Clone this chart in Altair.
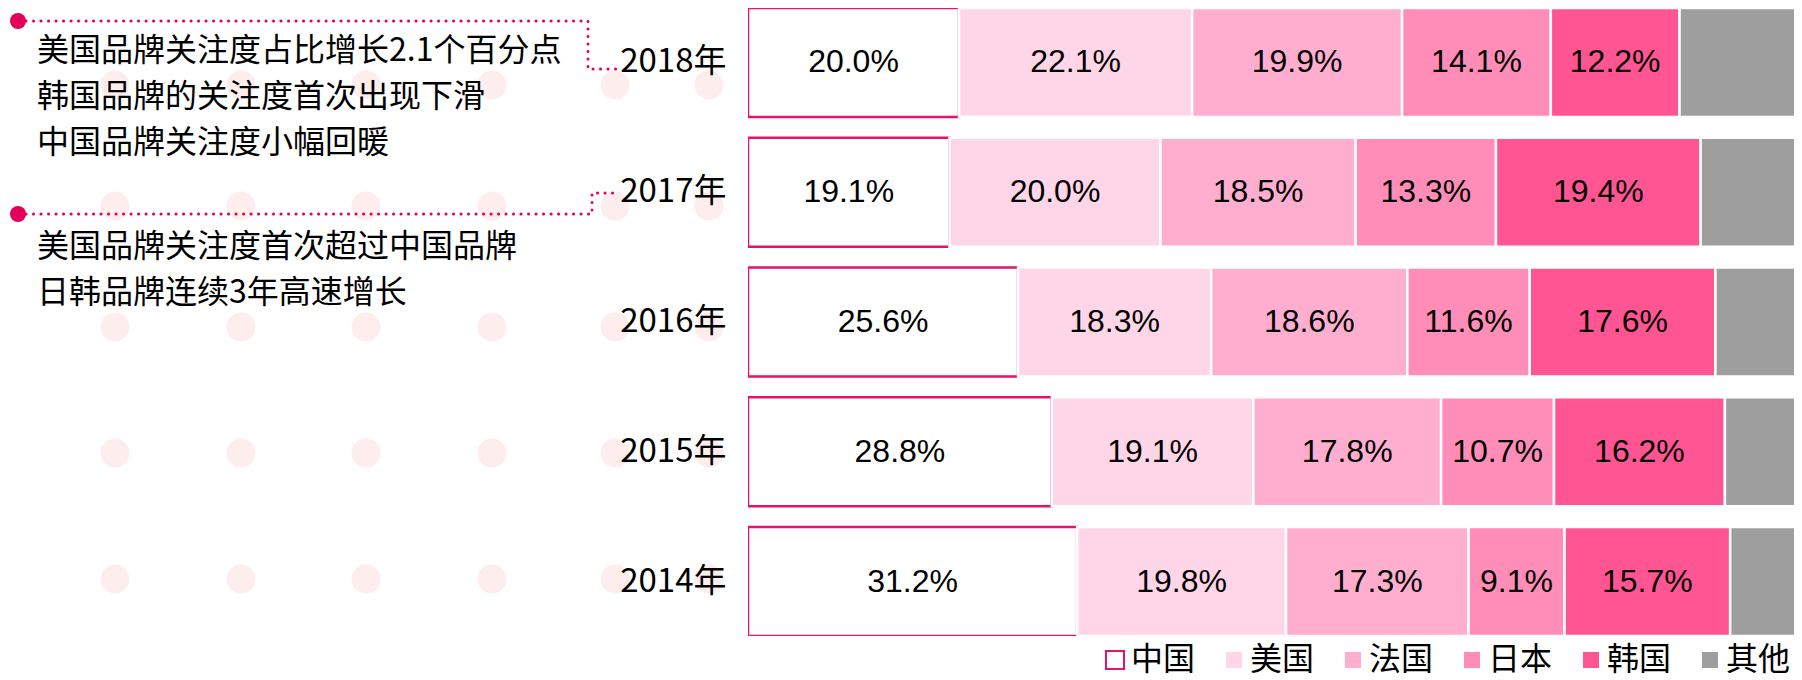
import altair as alt
import pandas as pd

# ---------------- data ----------------
years = ["2018年", "2017年", "2016年", "2015年", "2014年"]
brands = ["中国", "美国", "法国", "日本", "韩国", "其他"]
china = [20.0, 19.1, 25.6, 28.8, 31.2]
usa = [22.1, 20.0, 18.3, 19.1, 19.8]
france = [19.9, 18.5, 18.6, 17.8, 17.3]
japan = [14.1, 13.3, 11.6, 10.7, 9.1]
korea = [12.2, 19.4, 17.6, 16.2, 15.7]
other = [11.7, 9.7, 8.3, 7.4, 6.9]

note_2018 = ["美国品牌关注度占比增长2.1个百分点", "韩国品牌的关注度首次出现下滑", "中国品牌关注度小幅回暖"]
note_2017 = ["美国品牌关注度首次超过中国品牌", "日韩品牌连续3年高速增长"]

# ---------------- styles / layout ----------------
fills = ["#FFFFFF", "#FFD6E8", "#FFAED0", "#FF8DB7", "#FF5592", "#9E9E9E"]
strokes = ["#E6126B", "#FFFFFF", "#FFFFFF", "#FFFFFF", "#FFFFFF", "#FFFFFF"]
ACCENT = "#E4005A"
DOT_BG = "#FEEDED"
OX, OY = 748, 8  # page position of plot origin

bg_cols = [115, 241, 366, 492, 615, 709]
bg_rows = [85, 206, 327, 453, 579]
note_dots = [(18, 21), (18, 214)]
note_paths = [
    [(26, 21), (588, 21), (588, 69), (617, 69)],
    [(26, 214), (592, 214), (592, 193), (617, 193)],
]
note_x = 37
note_1_y = [51, 97, 143]
note_2_y = [247, 293]

# ---------------- tables ----------------
series = [china, usa, france, japan, korea, other]
rows = []
for yi, yr in enumerate(years):
    for bi, b in enumerate(brands):
        rows.append({"year": yr, "brand": b, "order": bi, "value": series[bi][yi]})
df = pd.DataFrame(rows)

bg_df = pd.DataFrame([{"px": c - OX, "py": r - OY} for r in bg_rows for c in bg_cols])
nd_df = pd.DataFrame([{"px": x - OX, "py": y - OY} for x, y in note_dots])
path_rows = []
for g, path in enumerate(note_paths):
    for i, (x, y) in enumerate(path):
        path_rows.append({"g": g, "i": i, "px": x - OX, "py": y - OY})
path_df = pd.DataFrame(path_rows)
txt_rows = [{"px": note_x - OX, "py": y - OY, "t": t} for t, y in zip(note_2018, note_1_y)]
txt_rows += [{"px": note_x - OX, "py": y - OY, "t": t} for t, y in zip(note_2017, note_2_y)]
txt_df = pd.DataFrame(txt_rows)

PX = alt.X("px:Q", scale=None, axis=None)
PY = alt.Y("py:Q", scale=None, axis=None)

bg_layer = alt.Chart(bg_df).mark_point(shape="circle", filled=True, size=841, color=DOT_BG, opacity=1).encode(x=PX, y=PY)
path_layer = alt.Chart(path_df).mark_line(
    color=ACCENT, strokeWidth=3, strokeDash=[0.1, 7.4], strokeCap="round"
).encode(x=PX, y=PY, detail="g:N", order="i:Q")
nd_layer = alt.Chart(nd_df).mark_point(shape="circle", filled=True, size=256, color=ACCENT, opacity=1).encode(x=PX, y=PY)
txt_layer = alt.Chart(txt_df).mark_text(
    align="left", baseline="middle", font="Noto Sans CJK SC", fontSize=32, color="#000000"
).encode(x=PX, y=PY, text="t:N")

legend = alt.Legend(
    title=None, orient="none", legendX=351, legendY=636, direction="horizontal",
    symbolType="square", symbolSize=324, symbolStrokeWidth=2,
    labelFont="Noto Sans CJK SC", labelFontSize=32, labelColor="#000000",
    labelOffset=0, columnPadding=22, padding=0, labelLimit=300,
)

base = alt.Chart(df).transform_stack(
    stack="value", groupby=["year"], as_=["x0", "x1"], sort=[alt.SortField("order", "ascending")]
)

yscale = alt.Scale(type="band", paddingInner=0.16, paddingOuter=0)
yenc = alt.Y(
    "year:N", sort=years, scale=yscale,
    axis=alt.Axis(title=None, domain=False, ticks=False, labelFont="Noto Sans CJK SC",
                  labelFontSize=33, labelColor="#000000", labelPadding=22, zindex=1, labelLimit=300),
)

bars = base.mark_bar(strokeWidth=2.5, clip=True).encode(
    x=alt.X("x0:Q", scale=alt.Scale(domain=[0, 99.15], nice=False, zero=True), axis=None),
    x2="x1:Q",
    y=yenc,
    fill=alt.Fill("brand:N", scale=alt.Scale(domain=brands, range=fills), legend=legend),
    stroke=alt.Stroke("brand:N", scale=alt.Scale(domain=brands, range=strokes), legend=legend),
)

labels = base.transform_filter("datum.brand != '其他'").transform_calculate(
    mid="(datum.x0 + datum.x1) / 2", label="format(datum.value, '.1f') + '%'"
).mark_text(
    font="Liberation Sans", fontSize=32, color="#000000", align="center", baseline="middle"
).encode(
    x=alt.X("mid:Q"),
    y=alt.Y("year:N", sort=years, scale=yscale),
    text="label:N",
)

data_layer = alt.layer(bars, labels)

chart = alt.layer(bg_layer, path_layer, nd_layer, txt_layer, data_layer).resolve_scale(
    x="independent", y="independent"
).properties(
    width=1046, height=628,
    autosize=alt.AutoSizeParams(type="none"),
    padding={"left": 740, "top": 0, "right": 0, "bottom": 44},
).configure_view(strokeWidth=0)

chart.save("out.html", embed_options={"renderer": "svg", "actions": False})
